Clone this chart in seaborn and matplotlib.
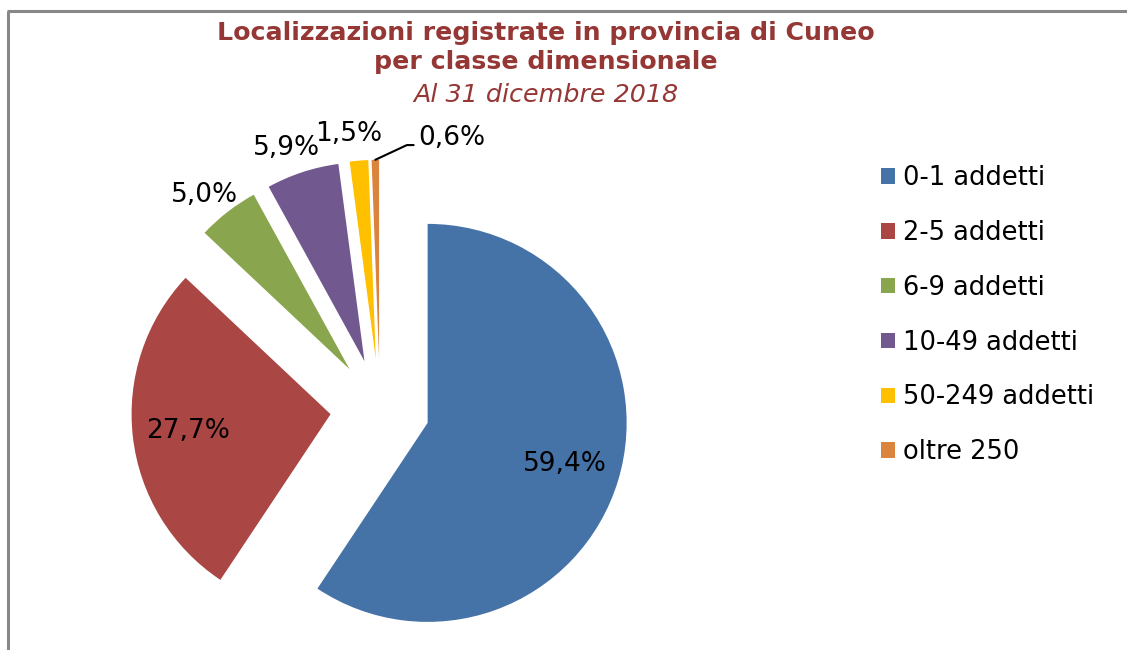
import numpy as np
import matplotlib
matplotlib.use("Agg")
import matplotlib.pyplot as plt
import seaborn as sns
from matplotlib.lines import Line2D
from matplotlib.patches import Patch

sns.set_theme(style="white")
plt.rcParams['font.family'] = ['DejaVu Sans']

# ---- data ----
categories = ["0-1 addetti", "2-5 addetti", "6-9 addetti", "10-49 addetti",
              "50-249 addetti", "oltre 250"]
values = [59.4, 27.7, 5.0, 5.9, 1.5, 0.6]
colors = ["#4572A7", "#AA4643", "#89A54E", "#71588F", "#FFC000", "#DB843D"]
title_line1 = "Localizzazioni registrate in provincia di Cuneo"
title_line2 = "per classe dimensionale"
subtitle = "Al 31 dicembre 2018"
title_color = "#953735"

W, H = 1127, 650
fig = plt.figure(figsize=(W / 100, H / 100), dpi=100)
ax = fig.add_axes([0, 0, 1, 1])

R_PX = 199.0
CX, CY = 380.0, 408.5

explode = [0.25] * len(values)
wedges, _ = ax.pie(values, explode=explode, startangle=90, counterclock=False,
                   colors=colors, radius=1.0, center=(0, 0),
                   wedgeprops=dict(linewidth=0))

ax.set_aspect('auto')
ax.set_xlim((0 - CX) / R_PX, (W - CX) / R_PX)
ax.set_ylim((CY - H) / R_PX, (CY - 0) / R_PX)
ax.axis('off')

def fmt(v):
    return f"{v:.1f}".replace('.', ',') + '%'

label_fs = 19
for i, (w, v) in enumerate(zip(wedges, values)):
    mid = np.deg2rad((w.theta1 + w.theta2) / 2)
    cx, cy = w.center
    if v > 20:
        d = 0.72
        ax.text(cx + d * np.cos(mid), cy + d * np.sin(mid), fmt(v),
                ha='center', va='center', fontsize=label_fs, color='black')
    elif v >= 1.0:
        d = 1.14
        ax.text(cx + d * np.cos(mid + np.deg2rad(2)), cy + d * np.sin(mid + np.deg2rad(2)), fmt(v),
                ha='center', va='center', fontsize=label_fs, color='black')
    else:
        px, py = cx + 1.0 * np.cos(mid), cy + 1.0 * np.sin(mid)
        ax.annotate(fmt(v), xy=(px, py), xycoords='data',
                    xytext=(43, 22), textcoords='offset pixels',
                    ha='left', va='center', fontsize=label_fs, color='black',
                    arrowprops=dict(arrowstyle='-', color='black', lw=1.5,
                                    shrinkA=1, shrinkB=0,
                                    relpos=(0, 0.22),
                                    connectionstyle="angle,angleA=0,angleB=25,rad=0"))

# ---- titles ----
fig.text(546 / W, 1 - 33 / H, title_line1, ha='center', va='center',
         fontsize=18.2, fontweight='bold', color=title_color)
fig.text(546 / W, 1 - 62 / H, title_line2, ha='center', va='center',
         fontsize=18.2, fontweight='bold', color=title_color)
fig.text(546 / W, 1 - 95 / H, subtitle, ha='center', va='center',
         fontsize=18.3, fontstyle='italic', color=title_color)

# ---- legend ----
handles = [Patch(facecolor=c, edgecolor='none') for c in colors]
leg = fig.legend(handles, categories, loc='upper left',
                 bbox_to_anchor=(871 / W, 1 - 155 / H), frameon=False,
                 fontsize=18.5, handlelength=0.55, handleheight=0.55,
                 handletextpad=0.3, labelspacing=1.12, borderaxespad=0)
for t in leg.get_texts():
    t.set_color('black')

# ---- frame border ----
fig.add_artist(Line2D([8 / W, 8 / W], [0, 1 - 11 / H], transform=fig.transFigure,
                      color='#888888', lw=2.2, solid_capstyle='butt'))
fig.add_artist(Line2D([7 / W, 1], [1 - 11 / H, 1 - 11 / H], transform=fig.transFigure,
                      color='#888888', lw=2.2, solid_capstyle='butt'))

fig.savefig("out.png", dpi=100)
